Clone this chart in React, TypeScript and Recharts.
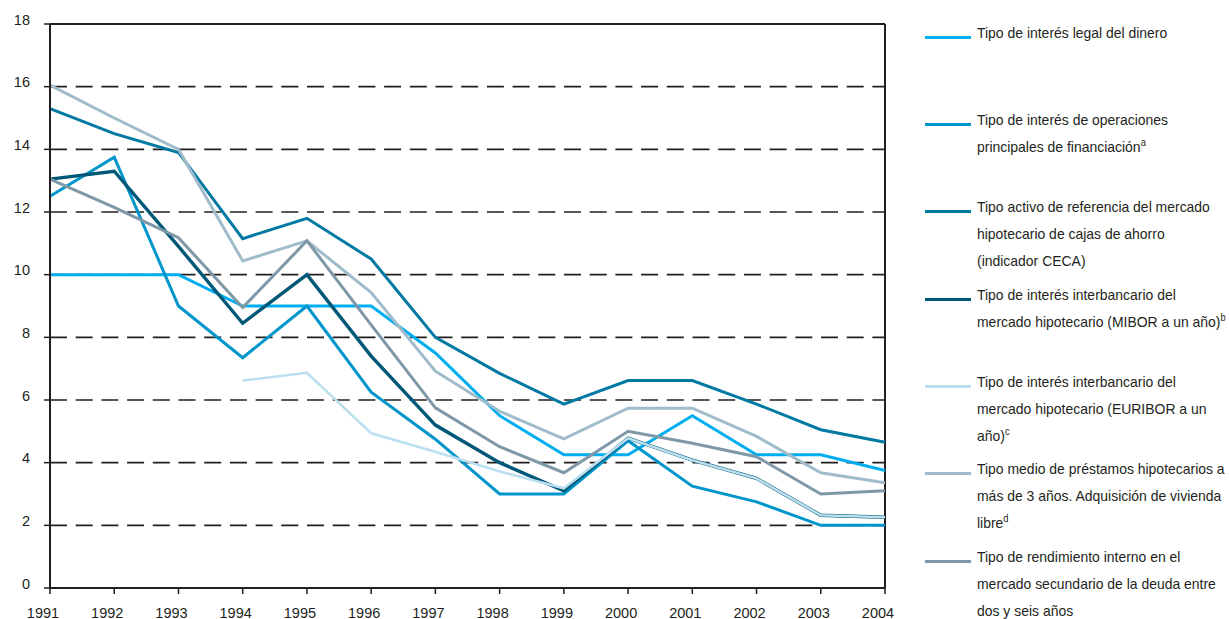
import React from 'react'
import {
  LineChart,
  Line,
  XAxis,
  YAxis,
  CartesianGrid,
  ReferenceLine,
} from 'recharts'

// años del eje horizontal
const years = [1991, 1992, 1993, 1994, 1995, 1996, 1997, 1998, 1999, 2000, 2001, 2002, 2003, 2004]
const yTicks = [0, 2, 4, 6, 8, 10, 12, 14, 16, 18]

// series (%)
const legal = [10, 10, 10, 9, 9, 9, 7.5, 5.5, 4.25, 4.25, 5.5, 4.25, 4.25, 3.75]
const operaciones = [12.5, 13.75, 9, 7.35, 9, 6.25, 4.75, 3, 3, 4.7, 3.25, 2.75, 2, 2]
const ceca = [15.3, 14.5, 13.9, 11.15, 11.8, 10.5, 8, 6.85, 5.87, 6.62, 6.62, 5.87, 5.05, 4.65]
const mibor = [13.05, 13.3, 10.9, 8.45, 10, 7.4, 5.2, 4, 3.1, 4.78, 4.08, 3.5, 2.32, 2.26]
const euribor = [null, null, null, 6.62, 6.87, 4.94, 4.35, 3.72, 3.18, 4.78, 4.08, 3.5, 2.32, 2.26]
const prestamos = [16.05, 15, 14, 10.44, 11.08, 9.43, 6.92, 5.64, 4.76, 5.74, 5.74, 4.84, 3.68, 3.36]
const deuda = [13.05, 12.15, 11.18, 8.95, 11.08, 8.4, 5.75, 4.51, 3.68, 5.0, 4.62, 4.19, 3.0, 3.1]

const FONT = "'Liberation Sans', Arial, sans-serif"
const INK = '#231f20'

type Serie = {
  key: string
  color: string
  width: number
  values: (number | null)[]
  lines: string[]
  sup?: string
}

const series: Serie[] = [
  { key: 'legal', color: '#00aeef', width: 3, values: legal, lines: ['Tipo de interés legal del dinero'] },
  {
    key: 'operaciones', color: '#0096cc', width: 3, values: operaciones,
    lines: ['Tipo de interés de operaciones', 'principales de financiación'], sup: 'a',
  },
  {
    key: 'ceca', color: '#0079a3', width: 3, values: ceca,
    lines: ['Tipo activo de referencia del mercado', 'hipotecario de cajas de ahorro', '(indicador CECA)'],
  },
  {
    key: 'mibor', color: '#005878', width: 3.4, values: mibor,
    lines: ['Tipo de interés interbancario del', 'mercado hipotecario (MIBOR a un año)'], sup: 'b',
  },
  {
    key: 'euribor', color: '#bcdff0', width: 2.6, values: euribor,
    lines: ['Tipo de interés interbancario del', 'mercado hipotecario (EURIBOR a un', 'año)'], sup: 'c',
  },
  {
    key: 'prestamos', color: '#a0bccb', width: 3, values: prestamos,
    lines: ['Tipo medio de préstamos hipotecarios a', 'más de 3 años. Adquisición de vivienda', 'libre'], sup: 'd',
  },
  {
    key: 'deuda', color: '#7f98a7', width: 3, values: deuda,
    lines: ['Tipo de rendimiento interno en el', 'mercado secundario de la deuda entre', 'dos y seis años'],
  },
]

const data = years.map((year, i) => {
  const row: Record<string, number | null> = { year }
  series.forEach((s) => {
    row[s.key] = s.values[i]
  })
  return row
})

const YTick = (props: any) => {
  const { y, payload } = props
  return (
    <text x={30} y={y + 0.5} textAnchor="end" fontFamily={FONT} fontSize={14.5} fill={INK}>
      {payload.value}
    </text>
  )
}

const XTick = (props: any) => {
  const { x, payload } = props
  return (
    <text x={x - 7} y={617.5} textAnchor="middle" fontFamily={FONT} fontSize={14.5} fill={INK}>
      {payload.value}
    </text>
  )
}

const LegendBox = () => (
  <div style={{ position: 'absolute', left: 0, top: 0, fontFamily: FONT, fontSize: 15, color: INK }}>
    {series.map((s, i) => {
      const top = 20.6 + i * 87.33
      return (
        <React.Fragment key={s.key}>
          <div
            style={{
              position: 'absolute', left: 925, top: top + 15, width: 46, height: 3, background: s.color,
            }}
          />
          <div
            style={{
              position: 'absolute', left: 977, top: top - 2, lineHeight: '27px', whiteSpace: 'nowrap',
              transform: 'scaleX(0.93)', transformOrigin: 'left top',
            }}
          >
            {s.lines.map((l, j) => (
              <div key={j}>
                {l}
                {s.sup && j === s.lines.length - 1 ? (
                  <span style={{ fontSize: 10, position: 'relative', top: -6, lineHeight: 0 }}>{s.sup}</span>
                ) : null}
              </div>
            ))}
          </div>
        </React.Fragment>
      )
    })}
  </div>
)

export default function App() {
  return (
    <div style={{ position: 'absolute', left: 0, top: 0, width: 1229, height: 619, overflow: 'hidden', background: '#fff' }}>
      <LineChart
        width={900}
        height={619}
        data={data}
        margin={{ top: 24, right: 15, left: 0, bottom: 0 }}
      >
        <CartesianGrid vertical={false} stroke={INK} strokeWidth={1.6} strokeDasharray="17 8.7" />
        <XAxis
          dataKey="year"
          type="number"
          domain={[1991, 2004]}
          ticks={years}
          interval={0}
          height={31}
          tickSize={6}
          axisLine={{ stroke: INK, strokeWidth: 2 }}
          tickLine={{ stroke: INK, strokeWidth: 1.5 }}
          tick={<XTick />}
        />
        <YAxis
          domain={[0, 18]}
          ticks={yTicks}
          interval={0}
          width={50}
          tickSize={6}
          axisLine={{ stroke: INK, strokeWidth: 2 }}
          tickLine={{ stroke: INK, strokeWidth: 1.5 }}
          tick={<YTick />}
        />
        <ReferenceLine y={18} stroke={INK} strokeWidth={2} />
        <ReferenceLine x={2004} stroke={INK} strokeWidth={2} />
        {series.map((s) => (
          <Line
            key={s.key}
            type="linear"
            dataKey={s.key}
            stroke={s.color}
            strokeWidth={s.width}
            dot={false}
            activeDot={false}
            isAnimationActive={false}
          />
        ))}
      </LineChart>
      <LegendBox />
    </div>
  )
}
